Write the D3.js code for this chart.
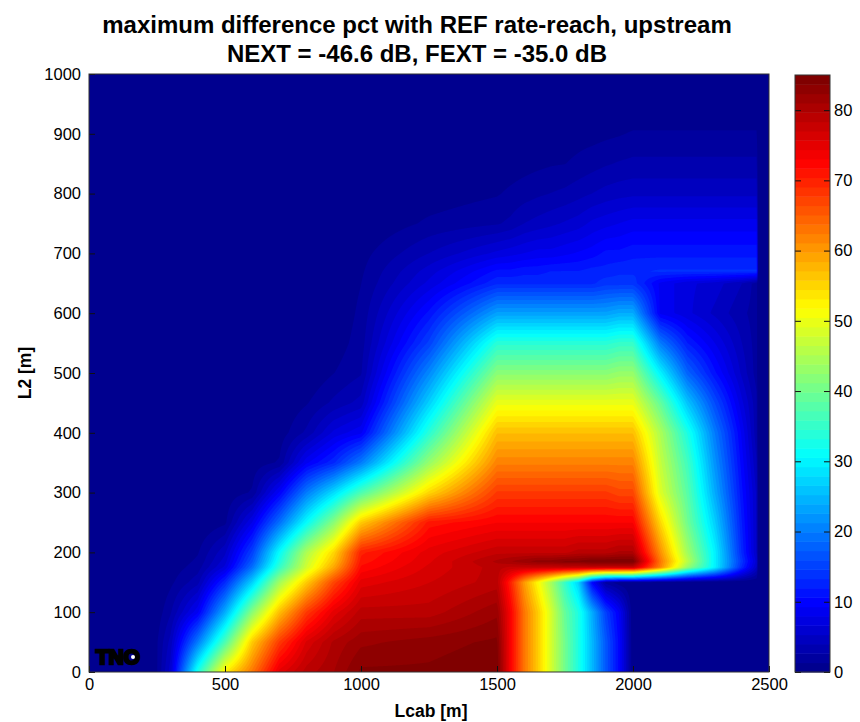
<!DOCTYPE html>
<html>
<head>
<meta charset="utf-8">
<script src="https://cdn.jsdelivr.net/npm/d3@7"></script>
<style>
body { margin: 0; background: #fff; }
text { font-family: "Liberation Sans", Arial, sans-serif; fill: #000; }
</style>
</head>
<body>
<div id="chart"></div>
<script>
// values, one array per L2 row, same order as lcab
const lcab = [0,250,300,400,500,600,700,800,900,1000,1250,1500,1550,1600,1650,1700,1750,1800,1850,1900,1950,2000,2100,2200,2300,2400,2455,2460,2500];
const l2 = [0,50,100,150,175,185,200,250,300,350,400,450,500,550,600,650,670,700,750,800,850,900,950,1000];

const r0    = [0,1.2,6,33,53,63,75,79,81,84,84,85,73,63,56,48,40,33,25,17,10,0,0,0,0,0,0,0,0];
const r50   = [0,1.2,4.5,20,37,56,68,76,80,82,83,84,73,63,56,48,40,33,25,17,10,0,0,0,0,0,0,0,0];
const r100  = [0,0.5,2.5,9,24,42,57,68,75,79,79,82,73,63,56,48,39,33,24,15,9,0,0,0,0,0,0,0,0];
const r150  = [0,0,1,3.5,13,27,44,56,67,75,77,79,70,60,52,44,35,27,10,2,0.5,0,0,0,0,0,0,0,0];
const r175  = [0,0,0.5,2,7,19,35,48,59,72,76,79,78,78,78,78,78,78,78,78,78,78,62,43,30,13,5,0,0];
const r185  = [0,0,0.3,1.6,6,17,33,47,57,71,75.5,80,81,82,83,83,84,84,85,85,85,85,63,46,30,14,6,0,0];
const r200  = [0,0,0,1.2,5,15,31,45,55,70,75,78,78,78,78,78,78,79,79,79,80,80,61,44,30,13,5,0,0];
const r250  = [0,0,0,0,1,8,19,31,42,56,71,73,73,73,73,73,73,73,73,73,73,73,55,40,27,12,5,0,0];
const r300  = [0,0,0,0,0.3,1.5,9.5,20,28,37,55,68,68,68,68,68,68,68,68,68,67,67,49,38,24,11,5,0,0];
const r350  = [0,0,0,0,0,0.5,1.5,9,13,20,43,62,62,62,62,62,62,62,62,62,62,62,47,36,22,10,4,0,0];
const r400  = [0,0,0,0,0,0,0.5,3,7,9,34,57,57,57,57,57,57,57,57,57,57,57,45,33,20,9,3,0,0];
const r450  = [0,0,0,0,0,0,0,1.2,3,4.5,27,50,50,50,50,50,50,50,50,50,50,50,39,26,16,7,3,0,0];
const r500  = [0,0,0,0,0,0,0,0,1.3,2.5,21,42,42,42,42,42,42,42,42,42,43,43,30,18,11,5,2,0,0];
const r550  = [0,0,0,0,0,0,0,0,0.5,2,15,34,34,34,34,34,34,34,34,34,35,35,20,12,8,4,2,0,0];
const r600  = [0,0,0,0,0,0,0,0,0,1.7,11,23,23,23,23,23,23,23,23,23,24,24,9,7,5,3,2,0,0];
const r650  = [0,0,0,0,0,0,0,0,0,1.3,7,13,13,13,13,13,13,13,13,14,14,14,9,7,6,4,2,0,0];
const r670  = [0,0,0,0,0,0,0,0,0,1.1,6,11,11,11.5,11.5,12,12,12,12.5,12.5,13,13,13.5,13.5,13.5,13.5,13.5,0,0];
const r700  = [0,0,0,0,0,0,0,0,0,0.8,4,7,7.5,8,8.5,8.5,9,9.5,10,11,11,11.5,11.5,11.5,11.5,11.5,11.5,0,0];
const r750  = [0,0,0,0,0,0,0,0,0,0,1.6,2.5,3,4,4.5,5,5.5,6,7,7.5,8,8.5,8.5,8.5,8.5,8.5,8.5,0,0];
const r800  = [0,0,0,0,0,0,0,0,0,0,0.5,1.2,1.6,2,2.4,2.7,3,3.5,4,4.5,4.8,5,5,5,5,5,5,0,0];
const r850  = [0,0,0,0,0,0,0,0,0,0,0,0.5,0.6,0.8,1,1.2,1.3,1.7,2.1,2.5,2.8,3,3,3,3,3,3,0,0];
const r900  = [0,0,0,0,0,0,0,0,0,0,0,0,0.1,0.3,0.4,0.5,0.5,0.7,0.8,1,1.2,1.5,1.5,1.5,1.5,1.5,1.5,0,0];
const r950  = new Array(lcab.length).fill(0);
const r1000 = new Array(lcab.length).fill(0);
const rows = [r0,r50,r100,r150,r175,r185,r200,r250,r300,r350,r400,r450,r500,r550,r600,r650,r670,r700,r750,r800,r850,r900,r950,r1000];

const xTicks = [0,500,1000,1500,2000,2500];
const yTicks = [0,100,200,300,400,500,600,700,800,900,1000];
const barTicks = [0,10,20,30,40,50,60,70,80];
const titleLines = ["maximum difference pct with REF rate-reach, upstream", "NEXT = -46.6 dB, FEXT = -35.0 dB"];
const zMax = 85;
const nColors = 64;

// jet colormap
const jet = d3.scaleLinear()
    .domain([0, 0.11, 0.36, 0.61, 0.86, 1])
    .range(["#00008f", "#0000ff", "#00ffff", "#ffff00", "#ff0000", "#800000"]);
const bands = d3.range(nColors).map(function(i) {
    return { lo: i * zMax / nColors, hi: (i + 1) * zMax / nColors, color: jet(i / (nColors - 1)) };
});

const margin = {top: 74, left: 89};
const width = 680, height = 598;

const svg = d3.select("#chart").append("svg")
    .attr("width", 860).attr("height", 722)
    .style("display", "block");

const x = d3.scaleLinear().domain([0, 2500]).range([0, width]);
const y = d3.scaleLinear().domain([0, 1000]).range([height, 0]);

// bilinear lookup in the uneven grid
function lookup(xv, yv) {
    const i = Math.min(d3.bisectRight(lcab, xv) - 1, lcab.length - 2);
    const j = Math.min(d3.bisectRight(l2, yv) - 1, l2.length - 2);
    const tx = (xv - lcab[i]) / (lcab[i + 1] - lcab[i]);
    const ty = (yv - l2[j]) / (l2[j + 1] - l2[j]);
    const a = rows[j][i] * (1 - tx) + rows[j][i + 1] * tx;
    const b = rows[j + 1][i] * (1 - tx) + rows[j + 1][i + 1] * tx;
    return a * (1 - ty) + b * ty;
}

const raster = new Float64Array(width * height);
for (let py = 0; py < height; py++) {
    for (let px = 0; px < width; px++) {
        raster[py * width + px] = lookup(x.invert(px + 0.5), y.invert(py + 0.5));
    }
}

svg.append("defs").append("clipPath").attr("id", "plotclip")
    .append("rect").attr("width", width).attr("height", height);

const plot = svg.append("g").attr("transform", "translate(" + margin.left + "," + margin.top + ")");

// filled contours, low band first
const field = plot.append("g").attr("clip-path", "url(#plotclip)");
field.append("rect").attr("width", width).attr("height", height).attr("fill", bands[0].color);
const contours = d3.contours().size([width, height]).thresholds(bands.slice(1).map(function(d) { return d.lo; }))(raster);
field.selectAll("path")
    .data(contours)
    .enter().append("path")
    .attr("d", d3.geoPath())
    .attr("fill", function(d, i) { return bands[i + 1].color; });

// TNO mark
plot.append("text")
    .attr("x", 7).attr("y", height - 8)
    .style("font-size", "20px").style("font-weight", "bold")
    .attr("stroke", "#000").attr("stroke-width", 2.4)
    .attr("textLength", 44).attr("lengthAdjust", "spacingAndGlyphs")
    .text("TNO");
plot.append("circle").attr("cx", 44).attr("cy", height - 15).attr("r", 2).attr("fill", "#fff");

function styleAxis(g) {
    g.selectAll("text").style("font-size", "16.5px");
    g.selectAll("line").attr("stroke", "#111");
    g.select(".domain").remove();
}

plot.append("g").attr("transform", "translate(0," + height + ")")
    .call(d3.axisBottom(x).tickValues(xTicks).tickFormat(d3.format("d")).tickSizeInner(-6).tickSizeOuter(0).tickPadding(6))
    .call(styleAxis);
plot.append("g")
    .call(d3.axisLeft(y).tickValues(yTicks).tickFormat(d3.format("d")).tickSizeInner(-6).tickSizeOuter(0).tickPadding(8))
    .call(styleAxis);

plot.append("rect").attr("width", width).attr("height", height)
    .attr("fill", "none").attr("stroke", "#333").attr("stroke-width", 1);

// colorbar
const barX = 795, barW = 35, barTop = 75, barH = 597;
const zScale = d3.scaleLinear().domain([0, zMax]).range([barH, 0]);
const bar = svg.append("g").attr("transform", "translate(" + barX + "," + barTop + ")");
bar.selectAll("rect")
    .data(bands)
    .enter().append("rect")
    .attr("x", 0).attr("width", barW)
    .attr("y", function(d) { return zScale(d.hi); })
    .attr("height", function(d) { return zScale(d.lo) - zScale(d.hi) + 0.5; })
    .attr("fill", function(d) { return d.color; });
bar.append("g").attr("transform", "translate(" + barW + ",0)")
    .call(d3.axisRight(zScale).tickValues(barTicks).tickSizeInner(-6).tickSizeOuter(0).tickPadding(4))
    .call(styleAxis);
bar.append("g")
    .call(d3.axisLeft(zScale).tickValues(barTicks).tickSizeInner(-6).tickSizeOuter(0).tickFormat(""))
    .call(styleAxis);
bar.append("rect").attr("width", barW).attr("height", barH)
    .attr("fill", "none").attr("stroke", "#333").attr("stroke-width", 1);

// titles
svg.selectAll(".title")
    .data(titleLines)
    .enter().append("text")
    .attr("class", "title")
    .attr("x", 417)
    .attr("y", function(d, i) { return 33 + i * 28.5; })
    .attr("text-anchor", "middle")
    .style("font-size", "24px").style("font-weight", "bold")
    .text(function(d) { return d; });

svg.append("text")
    .attr("x", 431).attr("y", 717)
    .attr("text-anchor", "middle")
    .style("font-size", "17.5px").style("font-weight", "bold")
    .text("Lcab [m]");
svg.append("text")
    .attr("transform", "translate(31,373) rotate(-90)")
    .attr("text-anchor", "middle")
    .style("font-size", "17.5px").style("font-weight", "bold")
    .text("L2 [m]");
</script>
</body>
</html>
